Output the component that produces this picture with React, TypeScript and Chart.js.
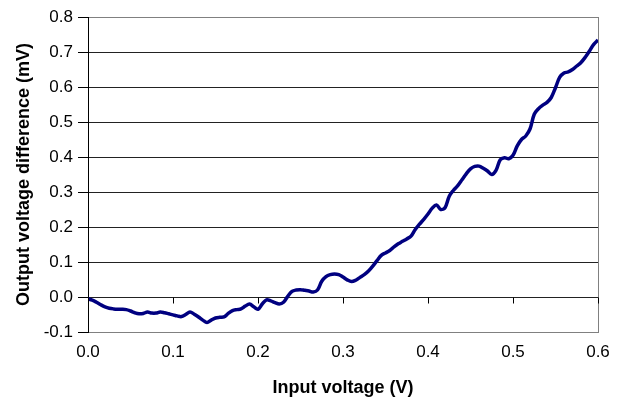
import React, { useEffect, useRef } from "react";
import { Chart, registerables } from "chart.js";

Chart.register(...registerables);

const inputVoltage: number[] = [
  0.0, 0.005, 0.01, 0.015, 0.02, 0.025, 0.03, 0.035, 0.04, 0.045,
  0.05, 0.055, 0.06, 0.065, 0.07, 0.075, 0.08, 0.085, 0.09, 0.095,
  0.1, 0.105, 0.11, 0.115, 0.12, 0.125, 0.13, 0.135, 0.14, 0.145,
  0.15, 0.155, 0.16, 0.165, 0.17, 0.175, 0.18, 0.185, 0.19, 0.195,
  0.2, 0.205, 0.21, 0.215, 0.22, 0.225, 0.23, 0.235, 0.24, 0.245,
  0.25, 0.255, 0.26, 0.265, 0.27, 0.275, 0.28, 0.285, 0.29, 0.295,
  0.3, 0.305, 0.31, 0.315, 0.32, 0.325, 0.33, 0.335, 0.34, 0.345,
  0.35, 0.355, 0.36, 0.365, 0.37, 0.375, 0.38, 0.385, 0.39, 0.395,
  0.4, 0.405, 0.41, 0.415, 0.42, 0.425, 0.43, 0.435, 0.44, 0.445,
  0.45, 0.455, 0.46, 0.465, 0.47, 0.475, 0.48, 0.485, 0.49, 0.495,
  0.5, 0.505, 0.51, 0.515, 0.52, 0.525, 0.53, 0.535, 0.54, 0.545,
  0.55, 0.555, 0.56, 0.565, 0.57, 0.575, 0.58, 0.585, 0.59, 0.595,
  0.6,
];

const outputDifference: number[] = [
  -0.005, -0.009, -0.015, -0.022, -0.028, -0.032, -0.034, -0.035, -0.035, -0.036,
  -0.04, -0.045, -0.048, -0.047, -0.043, -0.046, -0.046, -0.043, -0.045, -0.048,
  -0.051, -0.054, -0.056, -0.05, -0.043, -0.049, -0.057, -0.066, -0.073, -0.066,
  -0.06, -0.058, -0.057, -0.047, -0.039, -0.036, -0.034, -0.026, -0.02, -0.028,
  -0.035, -0.02, -0.008, -0.011, -0.016, -0.02, -0.015, 0.002, 0.016, 0.02,
  0.021, 0.019, 0.017, 0.014, 0.02, 0.045, 0.058, 0.064, 0.066, 0.064,
  0.057, 0.049, 0.044, 0.048, 0.056, 0.064, 0.074, 0.088, 0.104, 0.119,
  0.126, 0.133, 0.143, 0.152, 0.159, 0.166, 0.174, 0.193, 0.208, 0.222,
  0.237, 0.254, 0.263, 0.25, 0.255, 0.288, 0.305, 0.318, 0.335, 0.352,
  0.366, 0.373, 0.374, 0.368, 0.36, 0.35, 0.362, 0.392, 0.398, 0.395,
  0.405, 0.432, 0.45, 0.46, 0.48, 0.522, 0.538, 0.548, 0.556, 0.57,
  0.598, 0.628, 0.64, 0.643, 0.65, 0.66, 0.67, 0.685, 0.703, 0.722,
  0.734,
];

const xTickValues: number[] = [0, 0.1, 0.2, 0.3, 0.4, 0.5, 0.6];
const yTickValues: number[] = [-0.1, 0, 0.1, 0.2, 0.3, 0.4, 0.5, 0.6, 0.7, 0.8];

const xTitle = "Input voltage (V)";
const yTitle = "Output voltage difference (mV)";

const FONT = "'Liberation Sans', Arial, sans-serif";

const xTicksAtZero = {
  id: "xTicksAtZero",
  afterDraw(chart: any) {
    const { ctx, scales } = chart;
    const xs = scales.x;
    const ys = scales.y;
    const y0 = Math.round(ys.getPixelForValue(0)) + 0.5;
    ctx.save();
    ctx.strokeStyle = "#000";
    ctx.lineWidth = 1;
    ctx.beginPath();
    xTickValues.forEach((v) => {
      const x = Math.round(xs.getPixelForValue(v)) + 0.5;
      ctx.moveTo(x, y0);
      ctx.lineTo(x, y0 + 6);
    });
    ctx.stroke();
    ctx.restore();
  },
};

export default function App() {
  const ref = useRef<HTMLCanvasElement | null>(null);

  useEffect(() => {
    document.body.style.margin = "0";
    const canvas = ref.current;
    if (!canvas) return;
    const points = inputVoltage.map((x, i) => ({ x, y: outputDifference[i] }));
    const near = (a: number, b: number) => Math.abs(a - b) < 1e-6;
    const chart = new Chart(canvas, {
      type: "scatter",
      data: {
        datasets: [
          {
            data: points,
            showLine: true,
            borderColor: "#000080",
            backgroundColor: "#000080",
            borderWidth: 3.5,
            pointRadius: 0,
            tension: 0.35,
            fill: false,
          },
        ],
      },
      options: {
        animation: false,
        responsive: false,
        devicePixelRatio: 1,
        layout: { padding: { left: 0, right: 25, top: 17, bottom: 0 } },
        plugins: {
          legend: { display: false },
          tooltip: { enabled: false },
        },
        scales: {
          x: {
            type: "linear",
            min: 0,
            max: 0.6,
            afterBuildTicks: (s: any) => {
              s.ticks = xTickValues.map((v) => ({ value: v }));
            },
            afterFit: (s: any) => {
              s.height = 69;
            },
            ticks: {
              color: "#000",
              font: { family: FONT, size: 17 },
              padding: 10,
              maxRotation: 0,
              callback: (v: any) => Number(v).toFixed(1),
            },
            grid: {
              drawTicks: false,
              color: (c: any) =>
                c.tick && near(c.tick.value, 0.6) ? "#808080" : "rgba(0,0,0,0)",
            },
            border: { display: true, color: "#808080", width: 1 },
            title: {
              display: true,
              text: xTitle,
              color: "#000",
              font: { family: FONT, size: 18, weight: "bold" },
              padding: { top: 0, bottom: 2 },
            },
          },
          y: {
            type: "linear",
            min: -0.1,
            max: 0.8,
            afterBuildTicks: (s: any) => {
              s.ticks = yTickValues.map((v) => ({ value: v }));
            },
            afterFit: (s: any) => {
              s.width = 88;
            },
            ticks: {
              color: "#000",
              font: { family: FONT, size: 17 },
              padding: 5,
              callback: (v: any) => Number(v).toFixed(1),
            },
            grid: {
              drawTicks: true,
              tickLength: 10,
              tickColor: "#000",
              color: (c: any) =>
                c.tick && (near(c.tick.value, -0.1) || near(c.tick.value, 0.8))
                  ? "#808080"
                  : "#222",
            },
            border: { display: true, color: "#000", width: 1 },
            title: {
              display: true,
              text: yTitle,
              color: "#000",
              font: { family: FONT, size: 18, weight: "bold" },
              padding: { top: 13, bottom: 0 },
            },
          },
        },
      },
      plugins: [xTicksAtZero],
    });
    return () => chart.destroy();
  }, []);

  return (
    <div style={{ width: 623, height: 401, background: "#fff" }}>
      <canvas ref={ref} width={623} height={401} style={{ display: "block" }} />
    </div>
  );
}
